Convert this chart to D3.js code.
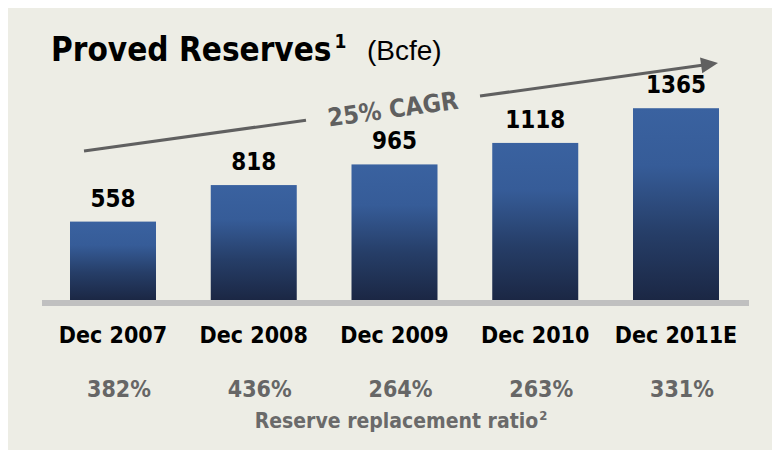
<!DOCTYPE html>
<html>
<head>
<meta charset="utf-8">
<script src="https://cdn.jsdelivr.net/npm/d3@7"></script>
<style>
  html, body { margin: 0; padding: 0; background: #ffffff; }
  svg { display: block; }
  .bold { font-family: "DejaVu Sans Condensed", "DejaVu Sans", sans-serif; font-stretch: condensed; font-weight: bold; }
</style>
</head>
<body>
<svg id="chart" width="772" height="450"></svg>
<script>
// Proved reserves by year-end (Bcfe)
const categories = ["Dec 2007", "Dec 2008", "Dec 2009", "Dec 2010", "Dec 2011E"];
const reserves = [558, 818, 965, 1118, 1365];
// Reserve replacement ratio (%)
const replacementRatio = [382, 436, 264, 263, 331];
const cagrLabel = "25% CAGR";

const W = 772, H = 450;
const svg = d3.select("#chart");

// panel background
svg.append("rect").attr("x", 8).attr("y", 8).attr("width", W - 8).attr("height", H - 8)
  .attr("fill", "#edede5");

const baseY = 300;
const x = d3.scaleBand().domain(categories).range([70, 719]).paddingInner(0.389).paddingOuter(0);
const y = d3.scaleLinear().domain([0, 1400]).range([baseY, baseY - 196.7]);

// vertical gradient applied per bar
const defs = svg.append("defs");
const grad = defs.append("linearGradient").attr("id", "barGrad")
  .attr("x1", 0).attr("y1", 0).attr("x2", 0).attr("y2", 1);
grad.append("stop").attr("offset", "0%").attr("stop-color", "#3a62a0");
grad.append("stop").attr("offset", "30%").attr("stop-color", "#365c98");
grad.append("stop").attr("offset", "65%").attr("stop-color", "#263e68");
grad.append("stop").attr("offset", "100%").attr("stop-color", "#1b2744");

// title
const title = svg.append("text").attr("x", 51).attr("y", 61);
title.append("tspan").attr("class", "bold").attr("font-size", 33).attr("fill", "#000").text("Proved Reserves");
title.append("tspan").attr("class", "bold").attr("font-size", 19).attr("dy", -13).attr("dx", 3).attr("fill", "#000").text("1");
svg.append("text").attr("x", 367).attr("y", 60)
  .attr("font-family", "'Liberation Sans', Arial, sans-serif").attr("font-size", 28).attr("fill", "#000")
  .text("(Bcfe)");

// bars
svg.append("g").selectAll("rect").data(reserves).join("rect")
  .attr("x", (d, i) => x(categories[i]))
  .attr("y", d => y(d))
  .attr("width", x.bandwidth())
  .attr("height", d => y(0) - y(d))
  .attr("fill", "url(#barGrad)");

// baseline
svg.append("rect").attr("x", 42).attr("y", baseY).attr("width", 707).attr("height", 6).attr("fill", "#c0c0c0");

// value labels
svg.append("g").selectAll("text").data(reserves).join("text")
  .attr("class", "bold")
  .attr("x", (d, i) => x(categories[i]) + x.bandwidth() / 2)
  .attr("y", d => y(d) - 15)
  .attr("text-anchor", "middle").attr("font-size", 24).attr("fill", "#000")
  .text(d => d);

// category labels
svg.append("g").selectAll("text").data(categories).join("text")
  .attr("class", "bold")
  .attr("x", d => x(d) + x.bandwidth() / 2)
  .attr("y", 343)
  .attr("text-anchor", "middle").attr("font-size", 23).attr("fill", "#000")
  .text(d => d);

// replacement ratio row
svg.append("g").selectAll("text").data(replacementRatio).join("text")
  .attr("class", "bold")
  .attr("x", (d, i) => x(categories[i]) + x.bandwidth() / 2 + 6)
  .attr("y", 397)
  .attr("text-anchor", "middle").attr("font-size", 23).attr("fill", "#666666")
  .text(d => d + "%");

const sub = svg.append("text").attr("x", 401).attr("y", 428).attr("text-anchor", "middle");
sub.append("tspan").attr("class", "bold").attr("font-size", 21).attr("fill", "#6a6a6a").text("Reserve replacement ratio");
sub.append("tspan").attr("class", "bold").attr("font-size", 13).attr("dy", -8).attr("dx", 1).attr("fill", "#6a6a6a").text("2");

// growth arrow with CAGR label
const a0 = [84, 151], a1 = [718, 63];
const ang = Math.atan2(a1[1] - a0[1], a1[0] - a0[0]);
const along = t => [a0[0] + (a1[0] - a0[0]) * t, a0[1] + (a1[1] - a0[1]) * t];
const span = a1[0] - a0[0];
const tGap0 = (306 - a0[0]) / span, tGap1 = (480 - a0[0]) / span, tHead = (702 - a0[0]) / span;
const arrow = svg.append("g").attr("stroke", "#606060").attr("stroke-width", 3).attr("fill", "none");
arrow.append("line").attr("x1", a0[0]).attr("y1", a0[1])
  .attr("x2", along(tGap0)[0]).attr("y2", along(tGap0)[1]);
arrow.append("line").attr("x1", along(tGap1)[0]).attr("y1", along(tGap1)[1])
  .attr("x2", along(tHead)[0]).attr("y2", along(tHead)[1]);
// arrow head
const deg = ang * 180 / Math.PI;
svg.append("path").attr("d", "M0,0 L-17,-8 L-17,8 Z").attr("fill", "#606060")
  .attr("transform", `translate(${a1[0]},${a1[1]}) rotate(${deg})`);

const mid = along((393 - a0[0]) / span);
svg.append("text").attr("class", "bold")
  .attr("transform", `translate(${mid[0]},${mid[1] + 1}) rotate(${deg})`)
  .attr("text-anchor", "middle").attr("dominant-baseline", "central")
  .attr("font-size", 25).attr("fill", "#606060")
  .text(cagrLabel);
</script>
</body>
</html>
